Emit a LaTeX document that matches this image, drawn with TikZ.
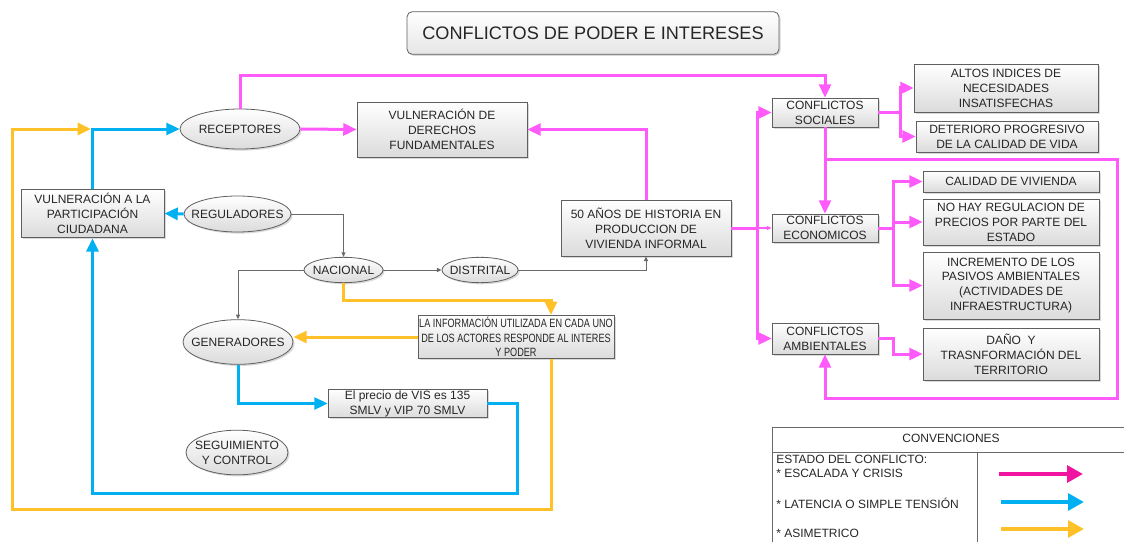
\documentclass[tikz,border=0pt]{standalone}
\usepackage{fontspec}
\setmainfont{Liberation Sans}
\newfontfamily\narrowf[FakeStretch=0.76]{Liberation Sans}
\usetikzlibrary{arrows.meta,shapes.geometric,shadows,calc}
\definecolor{pinkc}{RGB}{255,90,250}
\definecolor{deeppink}{RGB}{240,20,160}
\definecolor{bluec}{RGB}{0,176,240}
\definecolor{orangec}{RGB}{255,192,40}
\definecolor{linec}{RGB}{105,105,105}
\definecolor{edgec}{RGB}{95,95,95}
\begin{document}
\begin{tikzpicture}[x=0.75pt,y=-0.75pt,
  txt/.style={font=\fontsize{9}{11.2}\selectfont, text=black!85, align=center},
  shad/.style={drop shadow={shadow xshift=1.2pt,shadow yshift=-1.2pt,opacity=0.3}},
  boxst/.style={txt, draw=edgec, line width=0.6pt, rectangle, inner sep=0pt,
    top color=white, bottom color=black!14, shad},
  ellst/.style={txt, draw=edgec, line width=0.6pt, ellipse, inner sep=-20pt,
    top color=white, bottom color=black!14, shad},
  pk/.style={draw=pinkc, line width=2.25pt, -{Triangle[length=10pt,width=9pt]}},
  pkthin/.style={draw=pinkc, line width=0.8pt, -{Triangle[length=3.5pt,width=3pt]}},
  bl/.style={draw=bluec, line width=2.25pt, -{Triangle[length=10pt,width=9pt]}},
  org/.style={draw=orangec, line width=2.25pt, -{Triangle[length=10pt,width=9pt]}},
  gr/.style={draw=linec, line width=0.75pt, -{Triangle[length=3.5pt,width=3pt]}},
  legline/.style={draw=linec, line width=0.75pt},
  legarrow/.style={line width=3pt, -{Triangle[length=12pt,width=12.5pt]}}
]
\clip (0,0) rectangle (1124,542);

% title
\node[txt, draw=edgec, line width=0.6pt, rounded corners=4pt, top color=white, bottom color=black!10, shad,
  minimum width=279pt, minimum height=32pt, inner sep=0pt, font=\fontsize{13.6}{16}\selectfont] (title) at (593,33) {CONFLICTOS DE PODER E INTERESES};

% left/center nodes
\node[ellst, minimum width=90pt, minimum height=30pt] (rec) at (240,129) {RECEPTORES};
\node[boxst, minimum width=127.5pt, minimum height=41.25pt] (vdf) at (442,129.5) {VULNERACIÓN DE\\DERECHOS\\FUNDAMENTALES};
\node[boxst, minimum width=107.25pt, minimum height=36.5pt] (vpc) at (92.5,213.5) {VULNERACIÓN A LA\\PARTICIPACIÓN\\CIUDADANA};
\node[ellst, minimum width=80.25pt, minimum height=27pt] (reg) at (237.5,214) {REGULADORES};
\node[ellst, minimum width=59.25pt, minimum height=19pt] (nac) at (343.5,270) {NACIONAL};
\node[ellst, minimum width=57pt, minimum height=19pt] (dis) at (480,270) {DISTRITAL};
\node[boxst, minimum width=127.5pt, minimum height=42pt] (hist) at (646,228) {50 AÑOS DE HISTORIA EN\\PRODUCCION DE\\VIVIENDA INFORMAL};
\node[ellst, minimum width=82.5pt, minimum height=33.5pt] (gen) at (238,342) {GENERADORES};
\node[boxst, minimum width=147pt, minimum height=32.5pt, font=\narrowf\fontsize{9}{10.9}\selectfont] (info) at (516,337) {LA INFORMACIÓN UTILIZADA EN CADA UNO\\DE LOS ACTORES RESPONDE AL INTERES\\Y PODER};
\node[boxst, minimum width=119.25pt, minimum height=21.5pt] (precio) at (407.5,403.5) {El precio de VIS es 135\\SMLV y VIP 70 SMLV};
\node[ellst, minimum width=76.5pt, minimum height=33.5pt] (seg) at (237,452.5) {SEGUIMIENTO\\Y CONTROL};

% right nodes
\node[boxst, minimum width=79.5pt, minimum height=21.75pt] (cs) at (825,112.5) {CONFLICTOS\\SOCIALES};
\node[boxst, minimum width=79.5pt, minimum height=21pt] (ce) at (825,228) {CONFLICTOS\\ECONOMICOS};
\node[boxst, minimum width=79.5pt, minimum height=23.25pt] (ca) at (825,338.5) {CONFLICTOS\\AMBIENTALES};
\node[boxst, minimum width=138pt, minimum height=36pt] (altos) at (1006,88) {ALTOS INDICES DE\\NECESIDADES\\INSATISFECHAS};
\node[boxst, minimum width=136.5pt, minimum height=23.25pt] (det) at (1007,136.5) {DETERIORO PROGRESIVO\\DE LA CALIDAD DE VIDA};
\node[boxst, minimum width=132pt, minimum height=15.75pt] (cal) at (1011,181.5) {CALIDAD DE VIVIENDA};
\node[boxst, minimum width=132pt, minimum height=34.5pt] (nohay) at (1011,222) {NO HAY REGULACION DE\\PRECIOS POR PARTE DEL\\ESTADO};
\node[boxst, minimum width=132pt, minimum height=50.25pt] (inc) at (1011,285.5) {INCREMENTO DE LOS\\PASIVOS AMBIENTALES\\(ACTIVIDADES DE\\INFRAESTRUCTURA)};
\node[boxst, minimum width=132pt, minimum height=39pt] (dano) at (1011,354) {DAÑO\ \ Y\\TRASNFORMACIÓN DEL\\TERRITORIO};

% helper coordinates
\coordinate (top) at (0,76);
\coordinate (trk) at (757,0);
\coordinate (b1) at (900,0);
\coordinate (b2) at (893,0);
\coordinate (l1) at (0,159);
\coordinate (lr) at (1117,398);
\coordinate (bb) at (517,493);
\coordinate (o1) at (0,300);
\coordinate (ox) at (551,0);
\coordinate (obl) at (12,509);
\coordinate (otip) at (91,129);

% magenta connectors
\draw[pk] (rec.east) -- (vdf.west);
\draw[pk] (rec.north) -- (rec.north |- top) -| (cs.north);
\draw[pk] (hist.north) |- (vdf.east);
\draw[pk] (hist.east) -- (hist.east -| trk) |- (cs.west);
\draw[pk] (hist.east -| trk) |- (ca.west);
\draw[pkthin] (hist.east -| trk) -- (ce.west);
\draw[pk] (cs.east) -- (cs.east -| b1) |- (altos.west);
\draw[pk] (cs.east -| b1) |- (det.west);
\draw[pk] (ce.east) -- (ce.east -| b2) |- (cal.west);
\draw[pk] (ce.east -| b2) -- (nohay.west -| b2) -- (nohay.west);
\draw[pk] (ce.east -| b2) |- (inc.west);
\draw[pk] (ca.east) -- (ca.east -| b2) |- (dano.west);
\draw[pk] (cs.south) -- (ce.north);
\draw[pk] (cs.south |- l1) -| (lr) -| (ca.south);

% blue connectors
\draw[bl] (vpc.north) |- (rec.west);
\draw[bl] (reg.west) -- (vpc.east);
\draw[bl] (gen.south) |- (precio.west);
\draw[bl] (precio.east) -| (bb) -| (vpc.south);

% orange connectors
\draw[org] (nac.south) |- (ox |- o1) -- (ox |- info.north);
\draw[org] (info.west) -- (info.west -| gen.east);
\draw[org] (ox |- info.south) |- (obl) |- (otip);

% gray connectors
\draw[gr] (reg.east) -| (nac.north);
\draw[gr] (nac.west) -| (gen.north);
\draw[gr] (nac.east) -- (dis.west);
\draw[gr] (dis.east) -| (hist.south);

% legend
\draw[legline] (772,427) rectangle (1140,560);
\draw[legline] (772,452) -- (1140,452);
\draw[legline] (977,452) -- (977,560);
\node[txt] (conv) at (951,438) {CONVENCIONES};
\node[txt, anchor=west, inner sep=0pt] (est) at (776,459) {ESTADO DEL CONFLICTO:};
\node[txt, anchor=west, inner sep=0pt] (esc) at (776,473) {* ESCALADA Y CRISIS};
\node[txt, anchor=west, inner sep=0pt] (lat) at (776,503) {* LATENCIA O SIMPLE TENSIÓN};
\node[txt, anchor=west, inner sep=0pt] (asi) at (776,533) {* ASIMETRICO};
\coordinate (a1s) at (999,474);
\coordinate (a1e) at (1083,474);
\coordinate (a2s) at (1001,502);
\coordinate (a2e) at (1084,502);
\coordinate (a3s) at (1001,529);
\coordinate (a3e) at (1084,529);
\draw[legarrow, draw=deeppink, fill=deeppink] (a1s) -- (a1e);
\draw[legarrow, draw=bluec, fill=bluec] (a2s) -- (a2e);
\draw[legarrow, draw=orangec, fill=orangec] (a3s) -- (a3e);
\end{tikzpicture}
\end{document}
